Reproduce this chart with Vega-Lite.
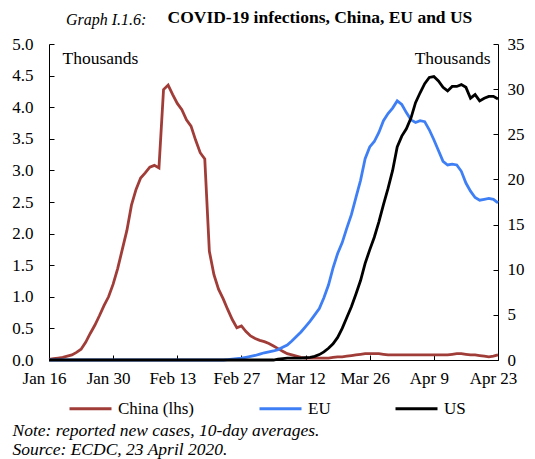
{
  "$schema": "https://vega.github.io/schema/vega-lite/v6.json",
  "width": 449,
  "height": 316,
  "autosize": {"type": "none"},
  "padding": {"left": 49, "top": 44, "right": 37, "bottom": 99},
  "background": "white",
  "config": {
    "font": "Liberation Serif",
    "view": {"stroke": null},
    "axis": {
      "grid": false,
      "domainColor": "black",
      "tickColor": "black",
      "labelColor": "black",
      "labelFont": "Liberation Serif",
      "labelFontSize": 17,
      "titleFont": "Liberation Serif",
      "titleColor": "black",
      "titleFontWeight": "normal",
      "titleFontSize": 17
    },
    "legend": {
      "labelFont": "Liberation Serif",
      "labelFontSize": 17,
      "labelColor": "black"
    }
  },
  "title": {
    "text": "Graph I.1.6:",
    "anchor": "start",
    "frame": "group",
    "dx": 17,
    "font": "Liberation Serif",
    "fontSize": 16,
    "fontStyle": "italic",
    "fontWeight": "normal",
    "color": "black",
    "offset": -20
  },
  "data": {
    "values": [
      {"date": "2020-01-16", "China": 0.01, "EU": 0, "US": 0},
      {"date": "2020-01-17", "China": 0.02, "EU": 0, "US": 0},
      {"date": "2020-01-18", "China": 0.03, "EU": 0, "US": 0},
      {"date": "2020-01-19", "China": 0.04, "EU": 0, "US": 0},
      {"date": "2020-01-20", "China": 0.06, "EU": 0, "US": 0},
      {"date": "2020-01-21", "China": 0.08, "EU": 0, "US": 0},
      {"date": "2020-01-22", "China": 0.12, "EU": 0, "US": 0},
      {"date": "2020-01-23", "China": 0.17, "EU": 0, "US": 0},
      {"date": "2020-01-24", "China": 0.28, "EU": 0, "US": 0},
      {"date": "2020-01-25", "China": 0.42, "EU": 0, "US": 0},
      {"date": "2020-01-26", "China": 0.55, "EU": 0, "US": 0},
      {"date": "2020-01-27", "China": 0.7, "EU": 0, "US": 0},
      {"date": "2020-01-28", "China": 0.86, "EU": 0, "US": 0},
      {"date": "2020-01-29", "China": 1.0, "EU": 0, "US": 0},
      {"date": "2020-01-30", "China": 1.2, "EU": 0, "US": 0},
      {"date": "2020-01-31", "China": 1.45, "EU": 0, "US": 0},
      {"date": "2020-02-01", "China": 1.75, "EU": 0, "US": 0},
      {"date": "2020-02-02", "China": 2.05, "EU": 0, "US": 0},
      {"date": "2020-02-03", "China": 2.45, "EU": 0, "US": 0},
      {"date": "2020-02-04", "China": 2.7, "EU": 0, "US": 0},
      {"date": "2020-02-05", "China": 2.88, "EU": 0, "US": 0},
      {"date": "2020-02-06", "China": 2.96, "EU": 0, "US": 0},
      {"date": "2020-02-07", "China": 3.05, "EU": 0, "US": 0},
      {"date": "2020-02-08", "China": 3.08, "EU": 0, "US": 0},
      {"date": "2020-02-09", "China": 3.04, "EU": 0, "US": 0},
      {"date": "2020-02-10", "China": 4.28, "EU": 0, "US": 0},
      {"date": "2020-02-11", "China": 4.35, "EU": 0, "US": 0},
      {"date": "2020-02-12", "China": 4.2, "EU": 0, "US": 0},
      {"date": "2020-02-13", "China": 4.06, "EU": 0, "US": 0},
      {"date": "2020-02-14", "China": 3.96, "EU": 0, "US": 0},
      {"date": "2020-02-15", "China": 3.8, "EU": 0, "US": 0},
      {"date": "2020-02-16", "China": 3.7, "EU": 0, "US": 0},
      {"date": "2020-02-17", "China": 3.48, "EU": 0, "US": 0},
      {"date": "2020-02-18", "China": 3.28, "EU": 0, "US": 0},
      {"date": "2020-02-19", "China": 3.18, "EU": 0, "US": 0},
      {"date": "2020-02-20", "China": 1.72, "EU": 0, "US": 0},
      {"date": "2020-02-21", "China": 1.35, "EU": 0, "US": 0},
      {"date": "2020-02-22", "China": 1.12, "EU": 0, "US": 0},
      {"date": "2020-02-23", "China": 0.97, "EU": 0, "US": 0},
      {"date": "2020-02-24", "China": 0.8, "EU": 0.05, "US": 0},
      {"date": "2020-02-25", "China": 0.64, "EU": 0.1, "US": 0},
      {"date": "2020-02-26", "China": 0.51, "EU": 0.15, "US": 0},
      {"date": "2020-02-27", "China": 0.54, "EU": 0.2, "US": 0},
      {"date": "2020-02-28", "China": 0.45, "EU": 0.3, "US": 0},
      {"date": "2020-02-29", "China": 0.38, "EU": 0.4, "US": 0},
      {"date": "2020-03-01", "China": 0.34, "EU": 0.5, "US": 0},
      {"date": "2020-03-02", "China": 0.31, "EU": 0.65, "US": 0},
      {"date": "2020-03-03", "China": 0.29, "EU": 0.8, "US": 0},
      {"date": "2020-03-04", "China": 0.26, "EU": 0.9, "US": 0},
      {"date": "2020-03-05", "China": 0.22, "EU": 1.0, "US": 0},
      {"date": "2020-03-06", "China": 0.18, "EU": 1.15, "US": 0.1},
      {"date": "2020-03-07", "China": 0.14, "EU": 1.4, "US": 0.15},
      {"date": "2020-03-08", "China": 0.1, "EU": 1.65, "US": 0.2},
      {"date": "2020-03-09", "China": 0.08, "EU": 2.1, "US": 0.2},
      {"date": "2020-03-10", "China": 0.06, "EU": 2.6, "US": 0.2},
      {"date": "2020-03-11", "China": 0.04, "EU": 3.1, "US": 0.2},
      {"date": "2020-03-12", "China": 0.03, "EU": 3.7, "US": 0.25},
      {"date": "2020-03-13", "China": 0.03, "EU": 4.3, "US": 0.3},
      {"date": "2020-03-14", "China": 0.03, "EU": 5.0, "US": 0.4},
      {"date": "2020-03-15", "China": 0.03, "EU": 5.7, "US": 0.6},
      {"date": "2020-03-16", "China": 0.03, "EU": 6.9, "US": 0.9},
      {"date": "2020-03-17", "China": 0.03, "EU": 8.3, "US": 1.3},
      {"date": "2020-03-18", "China": 0.04, "EU": 10.2, "US": 1.8},
      {"date": "2020-03-19", "China": 0.05, "EU": 11.8, "US": 2.5},
      {"date": "2020-03-20", "China": 0.05, "EU": 13.0, "US": 3.5},
      {"date": "2020-03-21", "China": 0.06, "EU": 14.6, "US": 4.7},
      {"date": "2020-03-22", "China": 0.07, "EU": 16.1, "US": 5.9},
      {"date": "2020-03-23", "China": 0.08, "EU": 18.0, "US": 7.3},
      {"date": "2020-03-24", "China": 0.09, "EU": 19.9, "US": 8.8},
      {"date": "2020-03-25", "China": 0.1, "EU": 22.3, "US": 10.7},
      {"date": "2020-03-26", "China": 0.1, "EU": 23.6, "US": 12.2},
      {"date": "2020-03-27", "China": 0.1, "EU": 24.2, "US": 13.6},
      {"date": "2020-03-28", "China": 0.1, "EU": 25.2, "US": 15.3},
      {"date": "2020-03-29", "China": 0.09, "EU": 26.5, "US": 17.2},
      {"date": "2020-03-30", "China": 0.08, "EU": 27.3, "US": 19.0},
      {"date": "2020-03-31", "China": 0.08, "EU": 27.9, "US": 21.0},
      {"date": "2020-04-01", "China": 0.08, "EU": 28.7, "US": 23.6},
      {"date": "2020-04-02", "China": 0.08, "EU": 28.3, "US": 24.8},
      {"date": "2020-04-03", "China": 0.08, "EU": 27.4, "US": 25.6},
      {"date": "2020-04-04", "China": 0.08, "EU": 26.6, "US": 26.8},
      {"date": "2020-04-05", "China": 0.08, "EU": 26.3, "US": 28.5},
      {"date": "2020-04-06", "China": 0.08, "EU": 26.5, "US": 29.6},
      {"date": "2020-04-07", "China": 0.08, "EU": 26.4, "US": 30.6},
      {"date": "2020-04-08", "China": 0.08, "EU": 25.5, "US": 31.3},
      {"date": "2020-04-09", "China": 0.08, "EU": 24.4, "US": 31.4},
      {"date": "2020-04-10", "China": 0.08, "EU": 23.2, "US": 30.9},
      {"date": "2020-04-11", "China": 0.08, "EU": 22.0, "US": 30.2},
      {"date": "2020-04-12", "China": 0.08, "EU": 21.6, "US": 29.8},
      {"date": "2020-04-13", "China": 0.09, "EU": 21.7, "US": 30.3},
      {"date": "2020-04-14", "China": 0.1, "EU": 21.6, "US": 30.3},
      {"date": "2020-04-15", "China": 0.1, "EU": 20.9, "US": 30.5},
      {"date": "2020-04-16", "China": 0.09, "EU": 19.6, "US": 30.2},
      {"date": "2020-04-17", "China": 0.08, "EU": 18.7, "US": 29.0},
      {"date": "2020-04-18", "China": 0.08, "EU": 18.0, "US": 29.4},
      {"date": "2020-04-19", "China": 0.07, "EU": 17.7, "US": 28.7},
      {"date": "2020-04-20", "China": 0.06, "EU": 17.8, "US": 29.0},
      {"date": "2020-04-21", "China": 0.05, "EU": 17.9, "US": 29.2},
      {"date": "2020-04-22", "China": 0.06, "EU": 17.8, "US": 29.2},
      {"date": "2020-04-23", "China": 0.08, "EU": 17.4, "US": 28.9}
    ]
  },
  "transform": [{"fold": ["China", "EU", "US"], "as": ["series", "value"]}],
  "encoding": {
    "color": {
      "field": "series",
      "type": "nominal",
      "scale": {"domain": ["China", "EU", "US"], "range": ["#a13d38", "#3f7ff5", "#000000"]},
      "legend": {
        "title": null,
        "orient": "none",
        "direction": "horizontal",
        "legendX": 19,
        "legendY": 342,
        "symbolType": "stroke",
        "symbolSize": 1764,
        "symbolStrokeWidth": 3,
        "labelOffset": 5,
        "columnPadding": 58,
        "labelExpr": "datum.label == 'China' ? 'China (lhs)' : datum.label"
      }
    }
  },
  "layer": [
    {
      "transform": [{"filter": "datum.series === 'China'"}],
      "mark": {"type": "line", "strokeWidth": 2.8},
      "encoding": {
        "x": {
          "field": "date",
          "type": "temporal",
          "scale": {"type": "utc", "domain": [1579132800000, 1587600000000]},
          "axis": {
            "orient": "bottom",
            "values": [1579132800000, 1580342400000, 1581552000000, 1582761600000, 1583971200000, 1585180800000, 1586390400000, 1587600000000],
            "format": "%b %-d",
            "tickSize": -5,
            "labelPadding": 15,
            "labelOffset": -5,
            "labelAngle": 0,
            "labelFlush": false,
            "labelOverlap": false,
            "title": ["Note: reported new cases, 10-day averages.", "Source: ECDC, 23 April 2020."],
            "titleFontStyle": "italic",
            "titleFontSize": 17.5,
            "titleAnchor": "start",
            "titleAlign": "left",
            "titleBaseline": "top",
            "titleX": -37,
            "titleY": 61,
            "titleLineHeight": 19
          }
        },
        "y": {
          "field": "value",
          "type": "quantitative",
          "scale": {"domain": [0, 5], "nice": false},
          "axis": {
            "orient": "left",
            "values": [0, 0.5, 1, 1.5, 2, 2.5, 3, 3.5, 4, 4.5, 5],
            "format": ".1f",
            "tickSize": -5,
            "labelPadding": 21,
            "title": "Thousands",
            "titleFontSize": 17.5,
            "titleAngle": 0,
            "titleAlign": "left",
            "titleBaseline": "middle",
            "titleX": 13,
            "titleY": 14
          }
        }
      }
    },
    {
      "transform": [{"filter": "datum.series !== 'China'"}],
      "mark": {"type": "line", "strokeWidth": 2.8},
      "encoding": {
        "x": {
          "field": "date",
          "type": "temporal",
          "scale": {"type": "utc", "domain": [1579132800000, 1587600000000]},
          "axis": {
            "orient": "top",
            "domain": false,
            "ticks": false,
            "labels": false,
            "title": "COVID-19 infections, China, EU and US",
            "titleFontWeight": "bold",
            "titleFontSize": 17.5,
            "titleAnchor": "start",
            "titleAlign": "left",
            "titleBaseline": "alphabetic",
            "titleAngle": 0,
            "titleX": 118,
            "titleY": -22
          }
        },
        "y": {
          "field": "value",
          "type": "quantitative",
          "scale": {"domain": [0, 35], "nice": false},
          "axis": {
            "orient": "right",
            "values": [0, 5, 10, 15, 20, 25, 30, 35],
            "tickSize": -5,
            "labelPadding": 14,
            "title": "Thousands",
            "titleFontSize": 17.5,
            "titleAngle": 0,
            "titleAlign": "right",
            "titleBaseline": "middle",
            "titleX": -8,
            "titleY": 14
          }
        }
      }
    }
  ],
  "resolve": {"scale": {"y": "independent"}, "axis": {"x": "independent"}}
}
